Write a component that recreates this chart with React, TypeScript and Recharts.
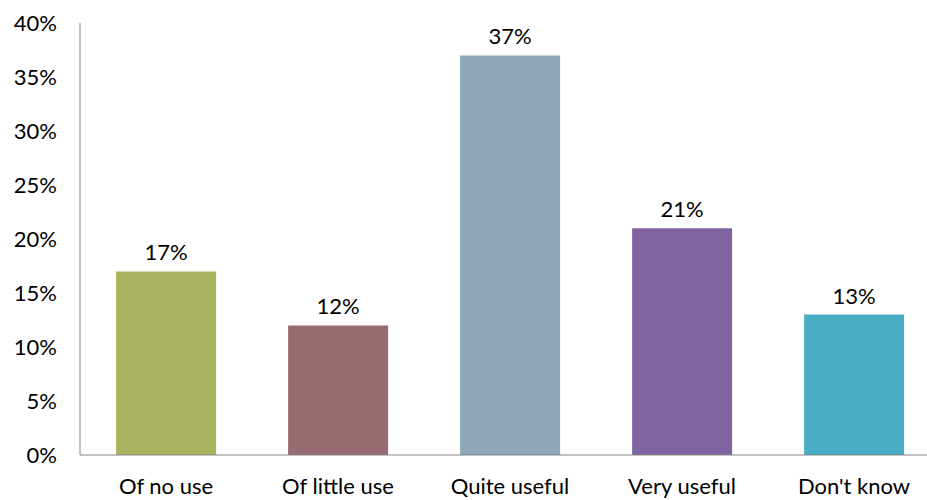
import { BarChart, Bar, XAxis, YAxis, Cell, LabelList } from "recharts";

const categories = ["Of no use", "Of little use", "Quite useful", "Very useful", "Don't know"];
const shares = [17, 12, 37, 21, 13];
const barColors = ["#A9B35E", "#976B71", "#8BA7B9", "#8064A2", "#4BACC6"];
const yTicks = [0, 5, 10, 15, 20, 25, 30, 35, 40];

const data = categories.map((name, i) => ({ name, value: shares[i] }));

const font = "Lato, 'Open Sans', sans-serif";

export default function App() {
  return (
    <div style={{ position: "absolute", left: 0, top: 0, width: 927, height: 500, overflow: "hidden", background: "#fff" }}>
      <BarChart
        width={940}
        height={500}
        data={data}
        margin={{ top: 23, right: 0, left: 0, bottom: 15 }}
        barCategoryGap="21%"
      >
        <XAxis
          dataKey="name"
          stroke="#868686"
          tickLine={false}
          tickSize={0}
          tickMargin={23}
          interval={0}
          tick={{ fill: "#000", fontSize: 22, fontFamily: font }}
        />
        <YAxis
          width={80}
          domain={[0, 40]}
          ticks={yTicks}
          tickFormatter={(v) => `${v}%`}
          stroke="#868686"
          tickLine={false}
          tickSize={0}
          tickMargin={23}
          tick={{ fill: "#000", fontSize: 22, fontFamily: font }}
        />
        <Bar dataKey="value" isAnimationActive={false}>
          {data.map((d, i) => (
            <Cell key={d.name} fill={barColors[i]} />
          ))}
          <LabelList
            dataKey="value"
            position="top"
            offset={11}
            formatter={(v: any) => `${v}%`}
            style={{ fill: "#000", fontSize: 22, fontFamily: font }}
          />
        </Bar>
      </BarChart>
    </div>
  );
}
